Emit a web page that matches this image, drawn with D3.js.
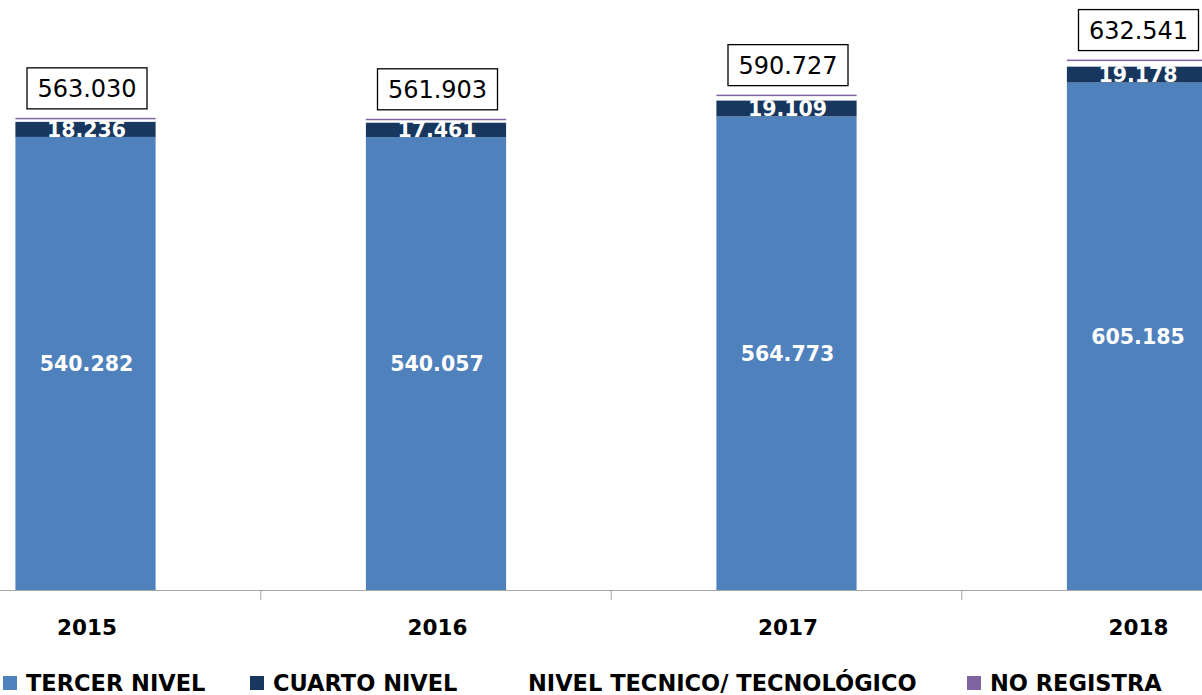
<!DOCTYPE html>
<html>
<head>
<meta charset="utf-8">
<script src="https://cdn.jsdelivr.net/npm/d3@7"></script>
<style>
  body { margin: 0; background: #fff; }
  svg { display: block; }
</style>
</head>
<body>
<script>
var w = 1202, h = 695;

// data
var years = ["2015", "2016", "2017", "2018"];
var tercerNivel = [540282, 540057, 564773, 605185];
var cuartoNivel = [18236, 17461, 19109, 19178];
var nivelTecnico = [2762, 2665, 5055, 6348];
var noRegistra = [1750, 1720, 1790, 1830];
var totals = [563030, 561903, 590727, 632541];

var seriesNames = ["TERCER NIVEL", "CUARTO NIVEL", "NIVEL TECNICO/ TECNOLÓGICO", "NO REGISTRA"];
var seriesColors = ["#4f81bd", "#17375e", "#ffffff", "#8064a2"];

var fmt = function (v) { return d3.format(",")(v).replace(/,/g, "."); };

var rows = years.map(function (y, i) {
  return { year: y, t: tercerNivel[i], c: cuartoNivel[i], n: nivelTecnico[i], r: noRegistra[i], total: totals[i] };
});

var svg = d3.select("body").append("svg").attr("width", w).attr("height", h);

var x = d3.scaleBand().domain(years).range([-89.75, 1312.25]).paddingInner(0.6).paddingOuter(0.3);
var y = d3.scaleLinear().domain([0, 700000]).range([590, 3]);

var stack = d3.stack().keys(["t", "c", "n", "r"]);
var layers = stack(rows);

svg.append("g").selectAll("g")
  .data(layers)
  .enter().append("g")
    .attr("fill", function (d, i) { return seriesColors[i]; })
  .selectAll("rect")
  .data(function (d) { return d; })
  .enter().append("rect")
    .attr("x", function (d) { return x(d.data.year); })
    .attr("width", x.bandwidth())
    .attr("y", function (d) { return y(d[1]); })
    .attr("height", function (d) { return y(d[0]) - y(d[1]); });

// axis line and ticks between categories
svg.append("line")
  .attr("x1", 0).attr("x2", w)
  .attr("y1", 590.5).attr("y2", 590.5)
  .attr("stroke", "#a6a6a6").attr("stroke-width", 1);

svg.append("g").selectAll("line")
  .data(years.slice(0, -1))
  .enter().append("line")
    .attr("x1", function (d) { return x(d) + x.bandwidth() / 2 + x.step() / 2; })
    .attr("x2", function (d) { return x(d) + x.bandwidth() / 2 + x.step() / 2; })
    .attr("y1", 590).attr("y2", 600)
    .attr("stroke", "#a6a6a6");

svg.append("g").selectAll("text")
  .data(years)
  .enter().append("text")
    .attr("x", function (d) { return x(d) + x.bandwidth() / 2 + 1.5; })
    .attr("y", 635)
    .attr("text-anchor", "middle")
    .style("font-family", "DejaVu Sans")
    .style("font-weight", "bold")
    .style("font-size", "21.5px")
    .style("fill", "#000")
    .text(function (d) { return d; });

// value labels inside bars
svg.append("g").selectAll("text")
  .data(layers[0])
  .enter().append("text")
    .attr("x", function (d) { return x(d.data.year) + x.bandwidth() / 2 + 1; })
    .attr("y", function (d) { return (y(d[0]) + y(d[1])) / 2 + 7.5; })
    .attr("text-anchor", "middle")
    .style("font-family", "DejaVu Sans")
    .style("font-weight", "bold")
    .style("font-size", "20.5px")
    .style("fill", "#fff")
    .text(function (d) { return fmt(d.data.t); });

svg.append("g").selectAll("text")
  .data(layers[1])
  .enter().append("text")
    .attr("x", function (d) { return x(d.data.year) + x.bandwidth() / 2 + 1; })
    .attr("y", function (d) { return (y(d[0]) + y(d[1])) / 2 + 7.5; })
    .attr("text-anchor", "middle")
    .style("font-family", "DejaVu Sans")
    .style("font-weight", "bold")
    .style("font-size", "20.5px")
    .style("fill", "#fff")
    .text(function (d) { return fmt(d.data.c); });

// total boxes
var tot = svg.append("g").selectAll("g")
  .data(rows)
  .enter().append("g")
    .attr("transform", function (d) {
      return "translate(" + (x(d.year) + x.bandwidth() / 2 + 1.5) + "," + (y(d.total) - 9) + ")";
    });

tot.append("rect")
  .attr("x", -60).attr("y", -41)
  .attr("width", 120).attr("height", 41)
  .attr("fill", "#fff").attr("stroke", "#000").attr("stroke-width", 1.3);

tot.append("text")
  .attr("y", -12)
  .attr("text-anchor", "middle")
  .style("font-family", "DejaVu Sans")
  .style("font-size", "24px")
  .style("fill", "#000")
  .text(function (d) { return fmt(d.total); });

// legend
var legendX = [3, 250, 505, 967];
var legend = svg.append("g").selectAll("g")
  .data(seriesNames)
  .enter().append("g")
    .attr("transform", function (d, i) { return "translate(" + legendX[i] + ",676)"; });

legend.append("rect")
  .attr("width", 14).attr("height", 14)
  .attr("fill", function (d, i) { return seriesColors[i]; });

legend.append("text")
  .attr("x", 23).attr("y", 15)
  .style("font-family", "DejaVu Sans")
  .style("font-weight", "bold")
  .style("font-size", "22.5px")
  .style("fill", "#000")
  .text(function (d) { return d; });
</script>
</body>
</html>
